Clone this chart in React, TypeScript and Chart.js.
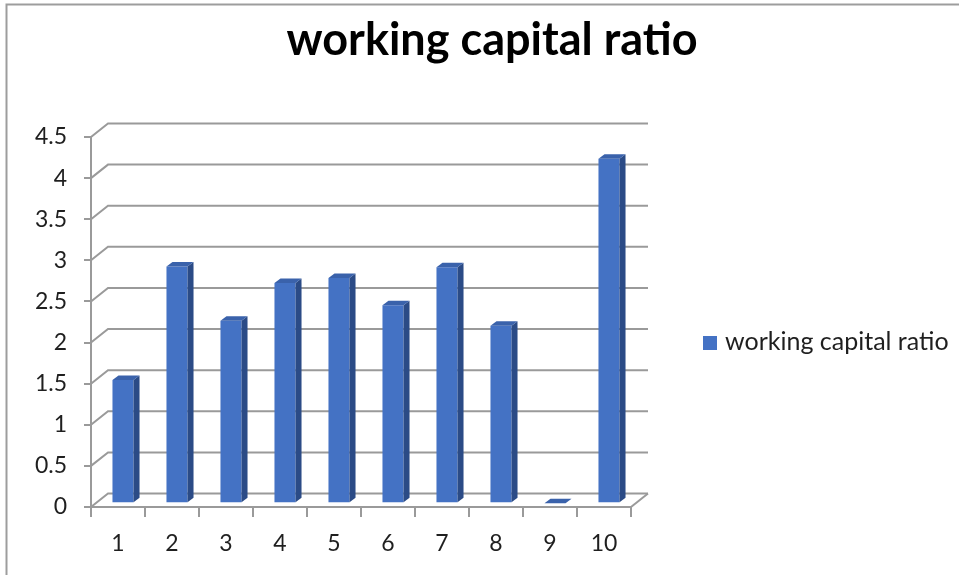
import React, { useEffect, useRef } from "react";
import { Chart, registerables } from "chart.js";

Chart.register(...registerables);

// ---- data ----
const categories: string[] = ["1", "2", "3", "4", "5", "6", "7", "8", "9", "10"];
const ratioValues: number[] = [1.5, 2.88, 2.22, 2.68, 2.74, 2.41, 2.87, 2.16, 0, 4.19];
const yTickLabels: string[] = ["0", "0.5", "1", "1.5", "2", "2.5", "3", "3.5", "4", "4.5"];
const seriesName = "working capital ratio";
const chartTitle = "working capital ratio";

// ---- styling ----
const FONT = 'Lato, "Open Sans", sans-serif';
const FRONT = "#4472c4";
const SIDE = "#2b4b86";
const TOP = "#3a62ab";
const GRID = "#9a9a9a";
const TEXT = "#1f1f1f";

// wall depth (back plane offset) and bar depth offsets
const WALL_DX = 17;
const WALL_DY = -13.5;
const BAR_DX = 5;
const BAR_DY = -3.7;
const SIDE_DX = 6;
const SIDE_DY = -4.5;

const pseudo3d = {
  id: "pseudo3d",
  beforeDatasetsDraw(chart: any) {
    const { ctx, chartArea, scales } = chart;
    const { left, right, bottom } = chartArea;
    const y = scales.y;
    ctx.save();
    ctx.strokeStyle = GRID;
    ctx.lineWidth = 2;
    y.ticks.forEach((t: any) => {
      const py = y.getPixelForValue(t.value);
      ctx.beginPath();
      ctx.moveTo(left, py);
      ctx.lineTo(left + WALL_DX, py + WALL_DY);
      ctx.lineTo(right + WALL_DX, py + WALL_DY);
      ctx.stroke();
    });
    ctx.beginPath();
    ctx.moveTo(right, bottom);
    ctx.lineTo(right + WALL_DX, bottom + WALL_DY);
    ctx.stroke();
    ctx.restore();
    // bars sit a little behind the front edge of the floor
    ctx.save();
    ctx.translate(BAR_DX, BAR_DY);
  },
  afterDatasetsDraw(chart: any) {
    const { ctx } = chart;
    const meta = chart.getDatasetMeta(0);
    meta.data.forEach((bar: any) => {
      const { x, y, base, width } = bar.getProps(["x", "y", "base", "width"], true);
      const l = x - width / 2;
      const r = x + width / 2;
      ctx.fillStyle = SIDE;
      ctx.beginPath();
      ctx.moveTo(r, y);
      ctx.lineTo(r + SIDE_DX, y + SIDE_DY);
      ctx.lineTo(r + SIDE_DX, base + SIDE_DY);
      ctx.lineTo(r, base);
      ctx.closePath();
      ctx.fill();
      ctx.fillStyle = TOP;
      ctx.beginPath();
      ctx.moveTo(l, y);
      ctx.lineTo(l + SIDE_DX, y + SIDE_DY);
      ctx.lineTo(r + SIDE_DX, y + SIDE_DY);
      ctx.lineTo(r, y);
      ctx.closePath();
      ctx.fill();
    });
    ctx.restore();
  },
  afterDraw(chart: any) {
    const { ctx } = chart;
    ctx.save();
    // outer frame (top and left edges)
    ctx.strokeStyle = "#9d9d9d";
    ctx.lineWidth = 2;
    ctx.beginPath();
    ctx.moveTo(6.5, 575);
    ctx.lineTo(6.5, 4.5);
    ctx.lineTo(959, 4.5);
    ctx.stroke();
    // title
    ctx.fillStyle = "#000";
    ctx.font = `bold 45px ${FONT}`;
    ctx.textAlign = "center";
    ctx.textBaseline = "alphabetic";
    ctx.fillText(chartTitle, 492, 55);
    // legend
    const ds = chart.data.datasets[0];
    ctx.fillStyle = ds.backgroundColor;
    ctx.fillRect(703, 336, 14, 14);
    ctx.fillStyle = TEXT;
    ctx.font = `25px ${FONT}`;
    ctx.textAlign = "left";
    ctx.fillText(ds.label, 725, 350);
    ctx.restore();
  },
};

export default function App() {
  const ref = useRef<HTMLCanvasElement | null>(null);
  useEffect(() => {
    if (!ref.current) return;
    const chart = new Chart(ref.current, {
      type: "bar",
      data: {
        labels: categories,
        datasets: [
          {
            label: seriesName,
            data: ratioValues,
            backgroundColor: FRONT,
            borderWidth: 0,
            barPercentage: 0.39,
            categoryPercentage: 1,
          },
        ],
      },
      options: {
        responsive: false,
        animation: false,
        devicePixelRatio: 1,
        layout: { padding: { top: 137, right: 328, bottom: 0, left: 0 } },
        plugins: {
          legend: { display: false },
          title: { display: false },
          tooltip: { enabled: false },
        },
        scales: {
          x: {
            offset: true,
            grid: {
              offset: true,
              drawOnChartArea: false,
              drawTicks: true,
              tickLength: 10,
              color: GRID,
              lineWidth: 2,
            },
            border: { display: true, color: GRID, width: 2 },
            ticks: {
              color: TEXT,
              font: { family: FONT, size: 23 },
              padding: 13,
              maxRotation: 0,
            },
            afterFit: (s: any) => {
              s.height = 68;
            },
          },
          y: {
            min: 0,
            max: 4.5,
            grid: {
              drawOnChartArea: false,
              drawTicks: true,
              tickLength: 7,
              color: GRID,
              lineWidth: 2,
            },
            border: { display: true, color: GRID, width: 2 },
            ticks: {
              stepSize: 0.5,
              color: TEXT,
              font: { family: FONT, size: 23 },
              padding: 17,
              callback: (_v: any, i: number) => yTickLabels[i],
            },
            afterFit: (s: any) => {
              s.width = 91;
            },
          },
        },
      },
      plugins: [pseudo3d],
    });
    return () => chart.destroy();
  }, []);
  return (
    <div style={{ position: "fixed", left: 0, top: 0, width: 959, height: 575, background: "#fff" }}>
      <canvas ref={ref} width={959} height={575} />
    </div>
  );
}
